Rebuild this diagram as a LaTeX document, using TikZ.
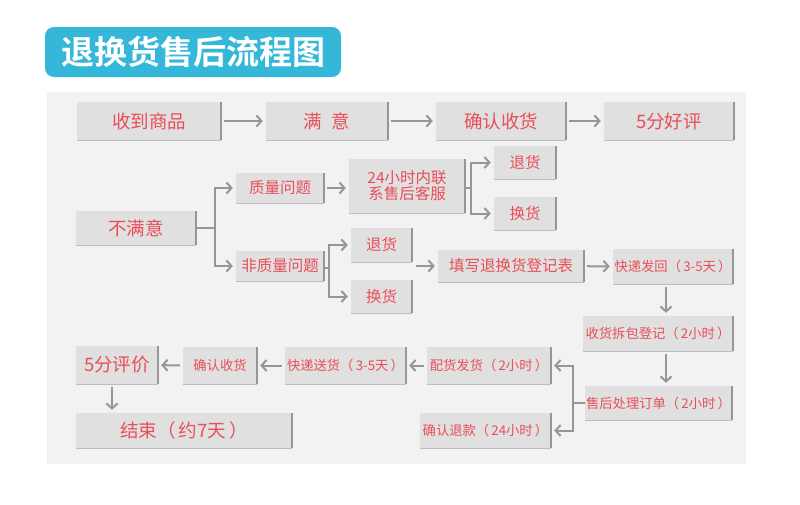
\documentclass[tikz,border=0pt]{standalone}
\usepackage{fontspec}
\setmainfont{Noto Sans CJK SC}
\newfontfamily\cjkb{Noto Sans CJK SC Bold}
\usetikzlibrary{arrows.meta,calc}
\definecolor{panel}{RGB}{242,242,242}
\definecolor{boxfill}{RGB}{224,224,224}
\definecolor{boxedge}{RGB}{150,150,150}
\definecolor{txtred}{RGB}{234,78,88}
\definecolor{arrgray}{RGB}{150,150,150}
\definecolor{titlecyan}{RGB}{52,183,216}
\tikzset{
  box/.style={fill=boxfill, text=txtred, inner sep=0pt, align=center,
    font=\fontsize{15.5}{18}\selectfont,
    append after command={
      \pgfextra{\let\tmpn\tikzlastnode}
      (\tmpn.north east) edge[draw=boxedge, line width=1.6pt, shorten <=0pt] (\tmpn.south east)
      (\tmpn.south west) edge[draw=boxfill!85!black, line width=0.8pt] (\tmpn.south east)
    }},
  big/.style={font=\fontsize{18.5}{21}\selectfont},
  small/.style={font=\fontsize{13.3}{16}\selectfont},
  arr/.style={draw=arrgray, line width=2pt, -{Straight Barb[length=5pt,width=11pt,line width=2pt]}, shorten >=3pt, shorten <=3pt},
  ln/.style={draw=arrgray, line width=2pt},
}
\begin{document}
\begin{tikzpicture}[x=1pt,y=-1pt]
\useasboundingbox (0,0) rectangle (800,504);
\fill[white] (0,0) rectangle (800,504);
% title
\node[fill=titlecyan, rounded corners=9pt, minimum width=296pt, minimum height=50pt, inner sep=0pt,
  text=white, font=\cjkb\fontsize{33}{36}\selectfont] (title) at (193,52) {退换货售后流程图};
% panel
\fill[panel] (47,92) rectangle (746,464);
% row 1
\node[box,big, minimum width=144pt, minimum height=38pt] (n1) at (149,121) {收到商品};
\node[box,big, minimum width=122pt, minimum height=38pt] (n2) at (327,121) {满\hspace{0.5em}意};
\node[box,big, minimum width=130pt, minimum height=38pt] (n3) at (501,121) {确认收货};
\node[box,big, minimum width=130pt, minimum height=38pt] (n4) at (669,121) {5分好评};
\draw[arr] (n1) -- (n2);
\draw[arr] (n2) -- (n3);
\draw[arr] (n3) -- (n4);
% unsatisfied
\node[box,big, minimum width=120pt, minimum height=34pt] (bmy) at (136,228) {不满意};
\node[box, minimum width=88pt, minimum height=30pt] (zl) at (280,188) {质量问题};
\node[box, minimum width=88pt, minimum height=30pt] (fzl) at (280,266) {非质量问题};
\node[box, minimum width=116pt, minimum height=54pt] (kf) at (407,186) {24小时内联\\[-2pt]系售后客服};
\node[box, minimum width=62pt, minimum height=33pt] (th1) at (525,162.5) {退货};
\node[box, minimum width=62pt, minimum height=33pt] (hh1) at (525,213.5) {换货};
\node[box, minimum width=61pt, minimum height=34pt] (th2) at (381.5,245) {退货};
\node[box, minimum width=61pt, minimum height=33pt] (hh2) at (381.5,296.5) {换货};
\node[box, minimum width=146pt, minimum height=32pt] (tx) at (511,266) {填写退换货登记表};
\node[box,small, minimum width=120pt, minimum height=35pt] (kdfh) at (673,266.5) {快递发回（\,3-5天\,）};
\node[box,small, minimum width=150pt, minimum height=35pt] (shcb) at (658,333.5) {收货拆包登记（\,2小时\,）};
\node[box,small, minimum width=147pt, minimum height=34pt] (shcl) at (658.5,403) {售后处理订单（\,2小时\,）};
\node[box,small, minimum width=124pt, minimum height=37pt] (phfh) at (489,365.5) {配货发货（\,2小时\,）};
\node[box,small, minimum width=131pt, minimum height=35pt] (qrtk) at (485.5,430.5) {确认退款（\,24小时\,）};
\node[box,small, minimum width=121pt, minimum height=37pt] (kdsh) at (345.5,365.5) {快递送货（\,3-5天\,）};
\node[box,small, minimum width=74pt, minimum height=37pt] (qrsh) at (220,365.5) {确认收货};
\node[box,big, minimum width=82pt, minimum height=38pt] (pj) at (117,365) {5分评价};
\node[box,big, minimum width=216pt, minimum height=35pt] (js) at (184,430.5) {结束（\,约7天\,）};
% bracket 1
\coordinate (b1) at (215,228);
\draw[ln] (bmy.east) -- (b1);
\draw[arr, shorten <=0pt] (b1) |- (zl.west);
\draw[arr, shorten <=0pt] (b1) |- (fzl.west);
\draw[arr] (zl) -- (kf.west |- zl);
% bracket 2
\coordinate (b2) at (471,188);
\draw[ln] (kf.east |- b2) -- (b2);
\draw[arr, shorten <=0pt] (b2) |- (th1.west);
\draw[arr, shorten <=0pt] (b2) |- (hh1.west);
% bracket 3
\coordinate (b3) at (329,268);
\draw[ln] (fzl.east |- b3) -- (b3);
\draw[arr, shorten <=0pt] (b3) |- (th2.west);
\draw[arr, shorten <=0pt] (b3) |- (hh2.west);
% to form
\coordinate (m1) at (416,266);
\draw[arr, shorten <=0pt] (m1) -- (tx.west);
\draw[arr] (tx) -- (kdfh);
\draw[arr] (kdfh.south -| 666,0) -- (shcb.north -| 666,0);
\draw[arr] (shcb.south -| 666,0) -- (shcl.north -| 666,0);
% bracket 4
\coordinate (b4) at (573,403);
\draw[ln] (shcl.west) -- (b4);
\draw[arr, shorten <=0pt] (b4) |- (phfh.east);
\draw[arr, shorten <=0pt] (b4) |- (qrtk.east);
% bottom row
\draw[arr] (phfh) -- (kdsh);
\draw[arr] (kdsh) -- (qrsh);
\draw[arr] (qrsh) -- (pj);
\draw[arr] (pj.south -| 112,0) -- (js.north -| 112,0);
\end{tikzpicture}
\end{document}
